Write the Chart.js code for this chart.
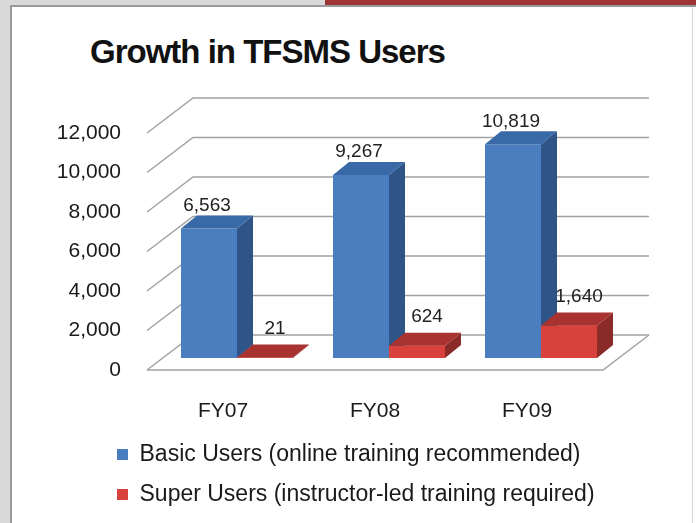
<!DOCTYPE html>
<html>
<head>
<meta charset="utf-8">
<script src="https://cdn.jsdelivr.net/npm/chart.js@4.4.1/dist/chart.umd.min.js"></script>
<style>
  html, body { margin: 0; padding: 0; }
  body { width: 696px; height: 523px; background: #d9d9d9; position: relative; overflow: hidden; }
  #band { position: absolute; left: 325px; top: 0; width: 371px; height: 5px; background: #9c3533; }
  #panel { position: absolute; left: 10px; top: 5px; width: 684px; height: 518px; background: #fff;
           border-left: 2px solid #9a9a9a; border-top: 2px solid #9a9a9a; }
  #edge { position: absolute; left: 692px; top: 7px; width: 1px; height: 516px; background: #d4d4d4; }
  #title { position: absolute; left: 90px; top: 35px; margin: 0; white-space: nowrap;
           font: bold 33px/33px "Liberation Sans", Arial, sans-serif; letter-spacing: -1px; color: #111; }
  #chart { position: absolute; left: 0; top: 0; }
</style>
</head>
<body>
<div id="band"></div>
<div id="panel"></div>
<div id="edge"></div>
<div id="title">Growth in TFSMS Users</div>
<canvas id="chart" width="696" height="523"></canvas>
<script>
var categories = ["FY07", "FY08", "FY09"];
var basicUsers = [6563, 9267, 10819];
var superUsers = [21, 624, 1640];
var seriesNames = ["Basic Users (online training recommended)", "Super Users (instructor-led training required)"];

var font = '"Liberation Sans", Arial, sans-serif';

/* 3d look: back wall offset, bars sit part way back, bar thickness */
var depthX = 46, depthY = -35;
var barX = 14, barY = -12;
var sideX = 16, sideY = -13;

var shades = [
    { front: "#4a7ebf", side: "#2f5488", top: "#3a69a8" },
    { front: "#d9413c", side: "#8b2b28", top: "#a8322f" }
];
var labelOffX = [-2, 10];
var labelOffY = [-23, -29];

// y labels are mirrored (so the narrow axis box does not clip them),
// pull them back left of the plot by their own width
var m = document.createElement("canvas").getContext("2d");
m.font = "21px " + font;
var widestTick = m.measureText("12,000").width;

function drawSides(chart, i) {
    var ctx = chart.ctx, c = shades[i];
    chart.getDatasetMeta(i).data.forEach(function(el) {
        var p = el.getProps(["x", "y", "base", "width"], true);
        var l = p.x - p.width / 2, r = p.x + p.width / 2;
        ctx.fillStyle = c.side;
        ctx.beginPath();
        ctx.moveTo(r, p.base);
        ctx.lineTo(r, p.y);
        ctx.lineTo(r + sideX, p.y + sideY);
        ctx.lineTo(r + sideX, p.base + sideY);
        ctx.closePath();
        ctx.fill();
        ctx.fillStyle = c.top;
        ctx.beginPath();
        ctx.moveTo(l, p.y);
        ctx.lineTo(r, p.y);
        ctx.lineTo(r + sideX, p.y + sideY);
        ctx.lineTo(l + sideX, p.y + sideY);
        ctx.closePath();
        ctx.fill();
    });
}

var box3d = {
    id: "box3d",
    beforeDatasetsDraw: function(chart) {
        var ctx = chart.ctx, y = chart.scales.y, a = chart.chartArea;
        ctx.save();
        ctx.strokeStyle = "#a2a2a2";
        ctx.lineWidth = 1.5;
        y.ticks.forEach(function(t) {
            var py = y.getPixelForValue(t.value);
            ctx.beginPath();
            ctx.moveTo(a.left, py);
            ctx.lineTo(a.left + depthX, py + depthY);
            ctx.lineTo(a.right + depthX, py + depthY);
            ctx.stroke();
        });
        // floor front edge + right side
        var b = y.getPixelForValue(0);
        ctx.beginPath();
        ctx.moveTo(a.left, b);
        ctx.lineTo(a.right, b);
        ctx.lineTo(a.right + depthX, b + depthY);
        ctx.stroke();
        ctx.restore();

        ctx.save();
        ctx.translate(barX, barY);
    },
    afterDatasetsDraw: function(chart) {
        var ctx = chart.ctx;
        drawSides(chart, 0);
        // red fronts again so blue side faces stay behind them
        chart.getDatasetMeta(1).data.forEach(function(el) { el.draw(ctx); });
        drawSides(chart, 1);

        ctx.font = "19px " + font;
        ctx.fillStyle = "#222";
        ctx.textAlign = "center";
        ctx.textBaseline = "middle";
        [0, 1].forEach(function(i) {
            var vals = chart.data.datasets[i].data;
            chart.getDatasetMeta(i).data.forEach(function(el, j) {
                ctx.fillText(vals[j].toLocaleString("en-US"), el.x + labelOffX[i], el.y + labelOffY[i]);
            });
        });
        ctx.restore();
    }
};

new Chart(document.getElementById("chart"), {
    type: "bar",
    data: {
        labels: categories,
        datasets: [
            {
                label: seriesNames[0],
                data: basicUsers,
                backgroundColor: shades[0].front,
                borderWidth: 0,
                categoryPercentage: 0.737,
                barPercentage: 1,
                clip: false
            },
            {
                label: seriesNames[1],
                data: superUsers,
                backgroundColor: shades[1].front,
                borderWidth: 0,
                categoryPercentage: 0.737,
                barPercentage: 1,
                clip: false
            }
        ]
    },
    options: {
        responsive: false,
        animation: false,
        layout: { padding: { left: 100, right: 93, top: 133, bottom: 7 } },
        plugins: {
            title: { display: false },
            legend: {
                position: "bottom",
                align: "start",
                labels: {
                    boxWidth: 11,
                    boxHeight: 11,
                    padding: 17,
                    color: "#1a1a1a",
                    font: { family: font, size: 23 }
                }
            },
            tooltip: { enabled: false }
        },
        scales: {
            x: {
                grid: { display: false },
                border: { display: false },
                ticks: { padding: 21, color: "#1a1a1a", font: { family: font, size: 21 } },
                afterFit: function(s) { s.height = 56; }
            },
            y: {
                min: 0,
                max: 12000,
                grid: { display: false },
                border: { display: false },
                ticks: {
                    stepSize: 2000,
                    mirror: true,
                    crossAlign: "far",
                    padding: -26 - widestTick,
                    color: "#1a1a1a",
                    font: { family: font, size: 21 },
                    callback: function(v) { return v.toLocaleString("en-US"); }
                },
                afterFit: function(s) { s.width = 47; }
            }
        }
    },
    plugins: [box3d]
});
</script>
</body>
</html>
